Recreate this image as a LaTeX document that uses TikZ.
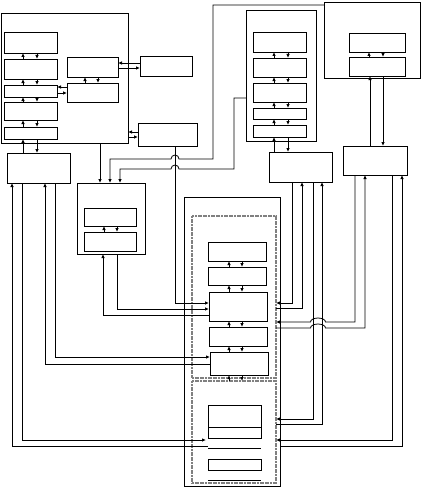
\documentclass[tikz,border=0pt]{standalone}
\usetikzlibrary{arrows.meta, calc}
\tikzset{
    % Box styles - plain rectangles, placed by their top left corner
    unit/.style 2 args={
        rectangle,
        draw=black,
        line width=0.8pt,
        inner sep=0pt,
        outer sep=0pt,
        minimum width=#1,
        minimum height=#2,
        anchor=north west
    },
    group/.style 2 args={
        unit={#1}{#2},
        draw=black!50,
        line width=1.4pt,
        dash pattern=on 2pt off 0.6pt
    },
    % Arrow styles - straight lines only
    arrow/.style={
        ->,
        >={Latex[length=4pt,width=3.5pt]},
        line width=0.8pt
    },
    link/.style={
        line width=0.8pt
    }
}
\begin{document}
\begin{tikzpicture}[x=1pt, y=-1pt]
    \useasboundingbox (0,0) rectangle (421,487);

    % left block
    \node[unit={127pt}{130pt}] (L) at (1,13) {};
    \node[unit={53pt}{21pt}] (l1) at (4,32) {};
    \node[unit={53pt}{20pt}] (l2) at (4,59) {};
    \node[unit={53pt}{12pt}] (l3) at (4,85) {};
    \node[unit={53pt}{18pt}] (l4) at (4,102) {};
    \node[unit={53pt}{12pt}] (l5) at (4,127) {};
    \node[unit={51pt}{20pt}] (m1) at (67,57) {};
    \node[unit={51pt}{19pt}] (m2) at (67,83) {};
    \node[unit={52pt}{20pt}] (R1) at (140,56) {};
    \node[unit={59pt}{23pt}] (R2) at (138,123) {};
    \node[unit={63pt}{30pt}] (A) at (7,153) {};

    % middle left block
    \node[unit={68pt}{71pt}] (C) at (77,183) {};
    \node[unit={52pt}{18pt}] (c1) at (84,208) {};
    \node[unit={52pt}{19pt}] (c2) at (84,232) {};

    % tall block
    \node[unit={70pt}{131pt}] (M) at (246,10) {};
    \node[unit={53pt}{20pt}] (n1) at (253,32) {};
    \node[unit={53pt}{19pt}] (n2) at (253,58) {};
    \node[unit={53pt}{19pt}] (n3) at (253,83) {};
    \node[unit={53pt}{11pt}] (n4) at (253,108) {};
    \node[unit={53pt}{12pt}] (n5) at (253,125) {};
    \node[unit={63pt}{30pt}] (E) at (269,152) {};

    % top right block
    \node[unit={96pt}{76pt}] (T) at (324,2) {};
    \node[unit={56pt}{19pt}] (t1) at (349,33) {};
    \node[unit={56pt}{19pt}] (t2) at (349,57) {};
    \node[unit={64pt}{29pt}] (F) at (343,146) {};

    % bottom block
    \node[unit={96pt}{289pt}] (D) at (184,197) {};
    \node[group={84pt}{162pt}] (up) at (192,216) {};
    \node[group={84pt}{102pt}] (lo) at (192,381) {};
    \node[unit={58pt}{19pt}] (d1) at (208,242) {};
    \node[unit={58pt}{18pt}] (d2) at (208,267) {};
    \node[unit={58pt}{29pt}] (d3) at (209,292) {};
    \node[unit={58pt}{19pt}] (d4) at (209,327) {};
    \node[unit={58pt}{23pt}] (d5) at (210,352) {};
    \node[unit={53pt}{33pt}] (s1) at (208,405) {};
    \node[unit={53pt}{11pt}] (s2) at (208,459) {};
    \draw[link] (s1.west |- 0,427) -- (s1.east |- 0,427);
    \draw[link] ([yshift=-10pt]s1.south west) -- ([yshift=-10pt]s1.south east);
    \draw[link] ([yshift=-10pt]s2.south west) -- ([yshift=-10pt]s2.south east);
    \coordinate (sin) at (206,440);
    \coordinate (sout) at (208,446);

    % stacked pairs
    \foreach \a/\b in {l1/l2,l2/l3,l3/l4,l4/l5,l5/A} {
        \draw[arrow] (23,0 |- \b.north) -- (23,0 |- \a.south);
        \draw[arrow] (37,0 |- \a.south) -- (37,0 |- \b.north);
    }
    \foreach \a/\b in {n1/n2,n2/n3,n3/n4,n4/n5,n5/E} {
        \draw[arrow] (274,0 |- \b.north) -- (274,0 |- \a.south);
        \draw[arrow] (288,0 |- \a.south) -- (288,0 |- \b.north);
    }
    \foreach \a/\b in {d1/d2,d2/d3,d3/d4,d4/d5,d5/lo} {
        \draw[arrow] (229,0 |- \b.north) -- (229,0 |- \a.south);
        \draw[arrow] (242,0 |- \a.south) -- (242,0 |- \b.north);
    }
    \draw[arrow] (85,0 |- m2.north) -- (85,0 |- m1.south);
    \draw[arrow] (98,0 |- m1.south) -- (98,0 |- m2.north);
    \draw[arrow] (104,0 |- c2.north) -- (104,0 |- c1.south);
    \draw[arrow] (117,0 |- c1.south) -- (117,0 |- c2.north);
    \draw[arrow] (369,0 |- t2.north) -- (369,0 |- t1.south);
    \draw[arrow] (383,0 |- t1.south) -- (383,0 |- t2.north);

    % side links
    \draw[arrow] (m2.west |- 0,87) -- (l3.east |- 0,87);
    \draw[arrow] (l3.east |- 0,93) -- (m2.west |- 0,93);
    \draw[arrow] (R1.west |- 0,63) -- (m1.east |- 0,63);
    \draw[arrow] (m1.east |- 0,68) -- (R1.west |- 0,68);
    \draw[arrow] (R2.west |- 0,132) -- (L.east |- 0,132);
    \draw[arrow] (L.east |- 0,137) -- (R2.west |- 0,137);
    \draw[arrow] (100,0 |- L.south) -- (100,0 |- C.north);
    \draw[arrow] (383,0 |- t2.south) -- (383,0 |- F.north);
    \draw[arrow] (370,0 |- F.north) -- (370,0 |- t2.south);

    % long links into C
    \draw[arrow] (T.west |- 0,5) -- (213,5) -- (213,159) -- (179,159)
        arc[start angle=0, end angle=180, radius=4pt] -- (110,159) -- (110,0 |- C.north);
    \draw[arrow] (M.west |- 0,98) -- (234,98) -- (234,169) -- (179,169)
        arc[start angle=0, end angle=180, radius=4pt] -- (120,169) -- (120,0 |- C.north);

    % links into the bottom block
    \draw[arrow] (175,0 |- R2.south) -- (175,303) -- (d3.west |- 0,303);
    \draw[arrow] (117,0 |- C.south) -- (117,309) -- (d3.west |- 0,309);
    \draw[arrow] (d3.west |- 0,315) -- (103,315) -- (103,0 |- C.south);

    \draw[arrow] (292,0 |- E.south) -- (292,303) -- (up.east |- 0,303);
    \draw[arrow] (up.east |- 0,308) -- (302,308) -- (302,0 |- E.south);
    \draw[arrow] (313,0 |- E.south) -- (313,419) -- (lo.east |- 0,419);
    \draw[arrow] (lo.east |- 0,424) -- (322,424) -- (322,0 |- E.south);

    \draw[arrow] (355,0 |- F.south) -- (355,322) -- (325.5,322)
        arc[start angle=0, end angle=180, x radius=7.5pt, y radius=4pt] -- (up.east |- 0,322);
    \draw[arrow] (up.east |- 0,328) -- (310.5,328)
        arc[start angle=180, end angle=0, x radius=7.5pt, y radius=4pt] -- (365,328) -- (365,0 |- F.south);
    \draw[arrow] (392,0 |- F.south) -- (392,440) -- (lo.east |- 0,440);
    \draw[arrow] (D.east |- 0,446) -- (402,446) -- (402,0 |- F.south);

    \draw[arrow] (55,0 |- A.south) -- (55,357) -- (d5.west |- 0,357);
    \draw[arrow] (d5.west |- 0,364) -- (45,364) -- (45,0 |- A.south);
    \draw[arrow] (22,0 |- A.south) -- (22,440) -- (sin);
    \draw[arrow] (sout) -- (12,446) -- (12,0 |- A.south);
\end{tikzpicture}
\end{document}
